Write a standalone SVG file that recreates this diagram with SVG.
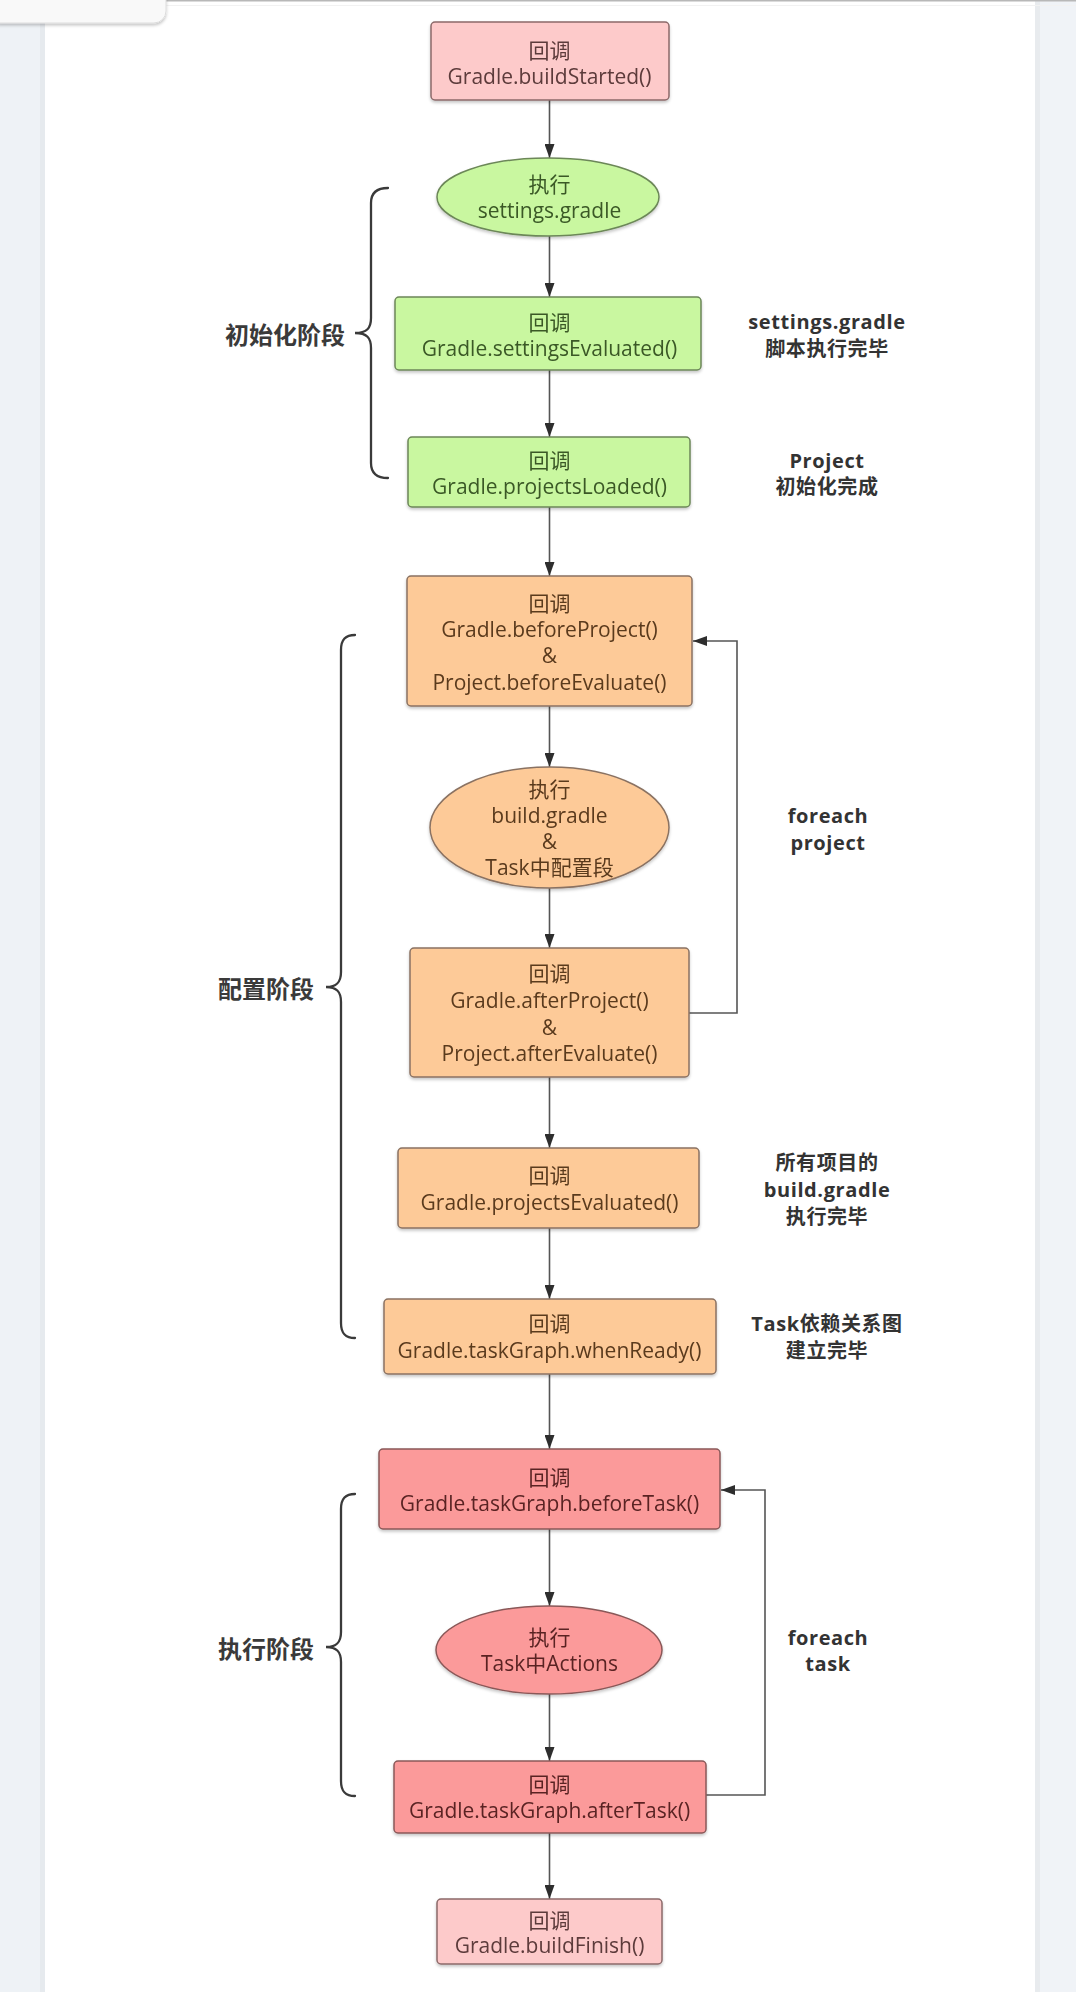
<svg xmlns="http://www.w3.org/2000/svg" width="1076" height="1992" viewBox="0 0 1076 1992">
<defs>
<style>
.t{font-family:"Open Sans","Noto Sans","Noto Sans CJK SC",sans-serif;font-size:21px;text-anchor:middle;dominant-baseline:central}
.ann{font-family:"Open Sans","Noto Sans","Noto Sans CJK SC",sans-serif;font-size:20px;font-weight:bold;fill:#333;text-anchor:middle;dominant-baseline:central;letter-spacing:0.6px}
.ph{font-family:"Noto Sans CJK SC","Noto Sans",sans-serif;font-size:24px;font-weight:bold;fill:#3a3a3a;text-anchor:end;dominant-baseline:central}
.pink rect{fill:#fdcaca;stroke:#8c6a6a;stroke-width:1.5}
.pink text{fill:#5c3a3a}
.green rect,.green ellipse{fill:#c9f7a0;stroke:#6c8758;stroke-width:1.5}
.green text{fill:#3a5826}
.orange rect,.orange ellipse{fill:#fdca98;stroke:#8a7262;stroke-width:1.5}
.orange text{fill:#5a3a1e}
.red rect,.red ellipse{fill:#fb9a9a;stroke:#8a5858;stroke-width:1.5}
.red text{fill:#5a2424}
.edge{fill:none;stroke:#555;stroke-width:1.6}
.brace{fill:none;stroke:#3a3a3a;stroke-width:2.3;stroke-linecap:round}
</style>
<marker id="arr" viewBox="0 0 14 10" refX="14" refY="5" markerWidth="14" markerHeight="10" markerUnits="userSpaceOnUse" orient="auto">
<path d="M0,0 L14,5 L0,10 Z" fill="#2e2e2e"/>
</marker>
<filter id="sh" x="-10%" y="-10%" width="120%" height="130%">
<feDropShadow dx="0" dy="2" stdDeviation="1.5" flood-color="#000" flood-opacity="0.22"/>
</filter>
</defs>

<g id="background">
<rect x="0" y="0" width="1076" height="1992" fill="#ffffff"/>
<rect x="0" y="0" width="45" height="1992" fill="#eef2f6"/>
<rect x="40" y="0" width="5" height="1992" fill="#e6eaee"/>
<rect x="1035" y="0" width="41" height="1992" fill="#f0f3f7"/>
<rect x="1035" y="0" width="5" height="1992" fill="#e8ebee"/>
<rect x="0" y="0" width="1076" height="1.5" fill="#b8b8b8"/>
<rect x="0" y="5" width="1076" height="1" fill="#f2f2f2"/>
<rect x="-12" y="-12" width="178" height="35" rx="12" fill="#f9f9f9" stroke="#dcdcdc" stroke-width="1" filter="url(#sh)"/>
</g>

<g id="connectors">
<line class="edge" x1="549.5" y1="100" x2="549.5" y2="158" marker-end="url(#arr)"/>
<line class="edge" x1="549.5" y1="236" x2="549.5" y2="297" marker-end="url(#arr)"/>
<line class="edge" x1="549.5" y1="370" x2="549.5" y2="437" marker-end="url(#arr)"/>
<line class="edge" x1="549.5" y1="507" x2="549.5" y2="576" marker-end="url(#arr)"/>
<line class="edge" x1="549.5" y1="706" x2="549.5" y2="767" marker-end="url(#arr)"/>
<line class="edge" x1="549.5" y1="888" x2="549.5" y2="948" marker-end="url(#arr)"/>
<line class="edge" x1="549.5" y1="1077" x2="549.5" y2="1148" marker-end="url(#arr)"/>
<line class="edge" x1="549.5" y1="1228" x2="549.5" y2="1299" marker-end="url(#arr)"/>
<line class="edge" x1="549.5" y1="1374" x2="549.5" y2="1449" marker-end="url(#arr)"/>
<line class="edge" x1="549.5" y1="1529" x2="549.5" y2="1606" marker-end="url(#arr)"/>
<line class="edge" x1="549.5" y1="1694" x2="549.5" y2="1761" marker-end="url(#arr)"/>
<line class="edge" x1="549.5" y1="1833" x2="549.5" y2="1899" marker-end="url(#arr)"/>
<polyline class="edge" points="689,1013 737,1013 737,641 693,641" marker-end="url(#arr)"/>
<polyline class="edge" points="706,1795 765,1795 765,1490 721,1490" marker-end="url(#arr)"/>
</g>

<g id="braces">
<path class="brace" d="M388,188 C376,188 371,193 371,203 L371,318 C371,328 367,333 355,333 C367,333 371,338 371,348 L371,463 C371,473 376,478 388,478"/>
<path class="brace" d="M355,635 C345,635 341,640 341,650 L341,972 C341,982 337,987 326,987 C337,987 341,992 341,1002 L341,1323 C341,1333 345,1338 355,1338"/>
<path class="brace" d="M355,1494 C345,1494 341,1499 341,1509 L341,1632 C341,1642 337,1647 326,1647 C337,1647 341,1652 341,1662 L341,1781 C341,1791 345,1796 355,1796"/>
</g>

<g id="phase-labels">
<text class="ph" x="345" y="333">初始化阶段</text>
<text class="ph" x="314" y="987">配置阶段</text>
<text class="ph" x="314" y="1647">执行阶段</text>
</g>

<g id="n-buildStarted" class="pink" filter="url(#sh)">
<rect x="431" y="22" width="238" height="78" rx="4"/>
<text class="t" x="549.5" y="50">回调</text>
<text class="t" x="549.5" y="76">Gradle.buildStarted()</text>
</g>

<g id="n-settings" class="green" filter="url(#sh)">
<ellipse cx="548" cy="197" rx="111" ry="39"/>
<text class="t" x="549.5" y="184">执行</text>
<text class="t" x="549.5" y="210">settings.gradle</text>
</g>

<g id="n-settingsEvaluated" class="green" filter="url(#sh)">
<rect x="395" y="297" width="306" height="73" rx="4"/>
<text class="t" x="549.5" y="322">回调</text>
<text class="t" x="549.5" y="348">Gradle.settingsEvaluated()</text>
</g>

<g id="n-projectsLoaded" class="green" filter="url(#sh)">
<rect x="408" y="437" width="282" height="70" rx="4"/>
<text class="t" x="549.5" y="460">回调</text>
<text class="t" x="549.5" y="486">Gradle.projectsLoaded()</text>
</g>

<g id="n-beforeProject" class="orange" filter="url(#sh)">
<rect x="407" y="576" width="285" height="130" rx="4"/>
<text class="t" x="549.5" y="603">回调</text>
<text class="t" x="549.5" y="629">Gradle.beforeProject()</text>
<text class="t" x="549.5" y="655">&amp;</text>
<text class="t" x="549.5" y="682">Project.beforeEvaluate()</text>
</g>

<g id="n-buildGradle" class="orange" filter="url(#sh)">
<ellipse cx="549.5" cy="827.5" rx="119.5" ry="60.5"/>
<text class="t" x="549.5" y="789">执行</text>
<text class="t" x="549.5" y="815">build.gradle</text>
<text class="t" x="549.5" y="841">&amp;</text>
<text class="t" x="549.5" y="867">Task中配置段</text>
</g>

<g id="n-afterProject" class="orange" filter="url(#sh)">
<rect x="410" y="948" width="279" height="129" rx="4"/>
<text class="t" x="549.5" y="973">回调</text>
<text class="t" x="549.5" y="1000">Gradle.afterProject()</text>
<text class="t" x="549.5" y="1027">&amp;</text>
<text class="t" x="549.5" y="1053">Project.afterEvaluate()</text>
</g>

<g id="n-projectsEvaluated" class="orange" filter="url(#sh)">
<rect x="398" y="1148" width="301" height="80" rx="4"/>
<text class="t" x="549.5" y="1175">回调</text>
<text class="t" x="549.5" y="1202">Gradle.projectsEvaluated()</text>
</g>

<g id="n-whenReady" class="orange" filter="url(#sh)">
<rect x="384" y="1299" width="332" height="75" rx="4"/>
<text class="t" x="549.5" y="1323">回调</text>
<text class="t" x="549.5" y="1350">Gradle.taskGraph.whenReady()</text>
</g>

<g id="n-beforeTask" class="red" filter="url(#sh)">
<rect x="379" y="1449" width="341" height="80" rx="4"/>
<text class="t" x="549.5" y="1477">回调</text>
<text class="t" x="549.5" y="1503">Gradle.taskGraph.beforeTask()</text>
</g>

<g id="n-actions" class="red" filter="url(#sh)">
<ellipse cx="549" cy="1650" rx="113" ry="44"/>
<text class="t" x="549.5" y="1637">执行</text>
<text class="t" x="549.5" y="1663">Task中Actions</text>
</g>

<g id="n-afterTask" class="red" filter="url(#sh)">
<rect x="394" y="1761" width="312" height="72" rx="4"/>
<text class="t" x="549.5" y="1784">回调</text>
<text class="t" x="549.5" y="1810">Gradle.taskGraph.afterTask()</text>
</g>

<g id="n-buildFinish" class="pink" filter="url(#sh)">
<rect x="437" y="1899" width="225" height="65" rx="4"/>
<text class="t" x="549.5" y="1920">回调</text>
<text class="t" x="549.5" y="1945">Gradle.buildFinish()</text>
</g>

<g id="annotations">
<text class="ann" x="827" y="321">settings.gradle</text>
<text class="ann" x="827" y="348">脚本执行完毕</text>
<text class="ann" x="827" y="460">Project</text>
<text class="ann" x="827" y="486">初始化完成</text>
<text class="ann" x="828" y="815">foreach</text>
<text class="ann" x="828" y="842">project</text>
<text class="ann" x="827" y="1162">所有项目的</text>
<text class="ann" x="827" y="1189">build.gradle</text>
<text class="ann" x="827" y="1216">执行完毕</text>
<text class="ann" x="827" y="1323">Task依赖关系图</text>
<text class="ann" x="827" y="1350">建立完毕</text>
<text class="ann" x="828" y="1637">foreach</text>
<text class="ann" x="828" y="1663">task</text>
</g>
</svg>
